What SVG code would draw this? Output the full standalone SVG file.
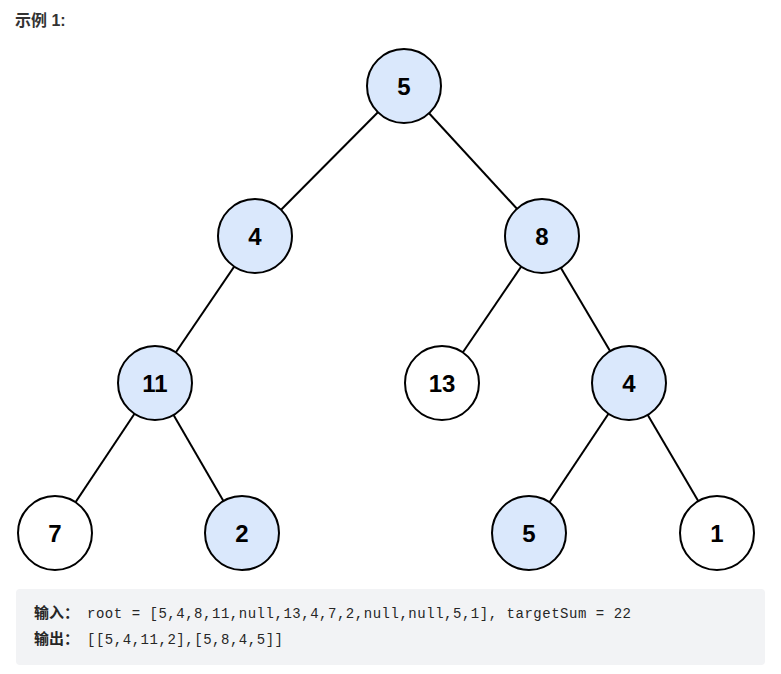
<svg xmlns="http://www.w3.org/2000/svg" width="781" height="674" viewBox="0 0 781 674">
<style>
.n circle{stroke:#000;stroke-width:2}
.hl circle{fill:#dae8fc}
.pl circle{fill:#fff}
.n text{font-family:"Liberation Sans",Arial,sans-serif;font-weight:bold;font-size:24px;text-anchor:middle;fill:#000}
.e line{stroke:#000;stroke-width:2}
.cjk{font-family:"Noto Sans CJK SC",sans-serif;font-weight:bold;font-size:15px;fill:#262626}
.mono{font-family:"Liberation Mono",monospace;font-size:14px;fill:#262626}
</style>
<rect width="781" height="674" fill="#fff"/>
<text x="15" y="26" font-family="'Liberation Sans','Noto Sans CJK SC',sans-serif" font-weight="bold" font-size="16" fill="#333">示例 1:</text>
<g class="e" id="edges">
<line x1="404" y1="86" x2="255" y2="236"/>
<line x1="404" y1="86" x2="542" y2="236"/>
<line x1="255" y1="236" x2="155" y2="383"/>
<line x1="542" y1="236" x2="442" y2="383"/>
<line x1="542" y1="236" x2="629" y2="383"/>
<line x1="155" y1="383" x2="55" y2="533"/>
<line x1="155" y1="383" x2="242" y2="533"/>
<line x1="629" y1="383" x2="529" y2="533"/>
<line x1="629" y1="383" x2="717" y2="533"/>
</g>
<g id="n5" class="n hl"><circle cx="404" cy="86" r="37"/><text x="404" y="95">5</text></g>
<g id="n4" class="n hl"><circle cx="255" cy="236" r="37"/><text x="255" y="245">4</text></g>
<g id="n8" class="n hl"><circle cx="542" cy="236" r="37"/><text x="542" y="245">8</text></g>
<g id="n11" class="n hl"><circle cx="155" cy="383" r="37"/><text x="155" y="392">11</text></g>
<g id="n13" class="n pl"><circle cx="442" cy="383" r="37"/><text x="442" y="392">13</text></g>
<g id="n4b" class="n hl"><circle cx="629" cy="383" r="37"/><text x="629" y="392">4</text></g>
<g id="n7" class="n pl"><circle cx="55" cy="533" r="37"/><text x="55" y="542">7</text></g>
<g id="n2" class="n hl"><circle cx="242" cy="533" r="37"/><text x="242" y="542">2</text></g>
<g id="n5b" class="n hl"><circle cx="529" cy="533" r="37"/><text x="529" y="542">5</text></g>
<g id="n1" class="n pl"><circle cx="717" cy="533" r="37"/><text x="717" y="542">1</text></g>
<g id="code">
<rect x="16" y="589" width="749" height="76" rx="4" fill="#f2f3f5"/>
<text x="34" y="618" class="cjk">输入：</text>
<text x="87" y="618" class="mono" textLength="544" lengthAdjust="spacing">root = [5,4,8,11,null,13,4,7,2,null,null,5,1], targetSum = 22</text>
<text x="34" y="644" class="cjk">输出：</text>
<text x="87" y="644" class="mono" textLength="196" lengthAdjust="spacing">[[5,4,11,2],[5,8,4,5]]</text>
</g>
</svg>
